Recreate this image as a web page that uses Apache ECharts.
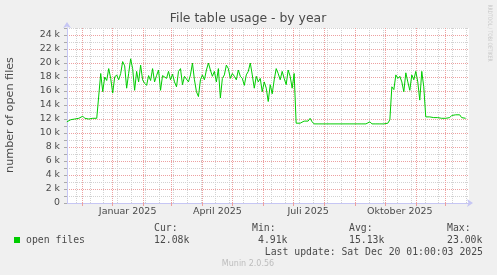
<!DOCTYPE html>
<html><head><meta charset="utf-8">
<script src="https://cdn.jsdelivr.net/npm/echarts@6/dist/echarts.min.js"></script>
<style>html,body{margin:0;padding:0;background:#f0f0f0;}#c{width:497px;height:275px;}</style>
</head><body><div id="c"></div>
<script>
// ---- data (values in thousands of open files, one sample every 2 days) ----
const seriesName = 'open files';
const sampleStart = [2024, 10, 16];   // 16 Nov 2024
const sampleStepDays = 2;
const openFilesK = [
  // mid Nov - mid Dec 2024
  11.6, 11.5, 11.9, 11.7, 12.0, 11.9, 12.1, 12.1, 12.4, 12.1, 12.1, 12.0, 12.1, 12.1, 12.1, 12.1, 12.1,
  // high period
  18.5, 15.9, 18.0, 17.5, 19.2, 17.8, 15.7, 18.0, 18.3, 17.6,
  18.5, 20.2, 19.6, 16.4, 18.5, 20.6, 19.2, 16.1, 18.8, 17.3,
  19.7, 17.6, 17.1, 16.8, 18.2, 17.5, 19.2, 17.3, 18.2, 19.0,
  16.1, 18.2, 18.3, 17.8, 18.8, 17.6, 18.4, 17.3, 16.6, 18.8,
  19.2, 16.9, 18.1, 17.9, 17.3, 18.3, 20.0, 17.6, 15.9, 15.2,
  17.6, 18.3, 17.6, 19.0, 20.0, 19.0, 18.1, 18.8, 17.3, 19.2,
  15.0, 17.8, 18.3, 19.7, 19.2, 17.8, 18.5, 18.1, 17.6, 19.0,
  18.1, 17.8, 16.8, 18.3, 18.8, 20.0, 18.3, 16.4, 18.1, 17.3,
  17.8, 15.9, 17.3, 16.4, 14.5, 16.9, 15.6, 17.6, 19.2, 18.5,
  17.6, 18.8, 17.8, 16.9, 19.0, 18.1, 16.4, 18.5,
  // low summer period
  11.4, 11.4, 11.4, 11.6, 11.7, 11.7, 11.7, 12.1, 11.6, 11.3,
  11.3, 11.3, 11.3, 11.3, 11.3, 11.3, 11.3, 11.3, 11.3, 11.3,
  11.3, 11.3, 11.5, 11.3, 11.3, 11.3, 11.3, 11.3, 11.4, 11.3,
  11.3, 11.3, 11.3, 11.3, 11.3, 11.3, 11.3, 11.6, 11.3, 11.3,
  11.3, 11.3, 11.3, 11.3, 11.3, 11.3, 11.4, 11.9,
  // autumn high period
  16.6, 16.2, 18.3, 17.8, 18.1, 17.3, 15.9, 18.6, 17.3, 16.1, 18.3, 17.6, 18.8, 17.3, 14.7, 18.8, 16.6,
  // Nov - Dec 2025
  12.3, 12.3, 12.3, 12.3, 12.2, 12.2, 12.2, 12.1, 12.1, 12.1, 12.1, 12.1, 12.2, 12.5, 12.6, 12.6, 12.5, 12.6, 12.2, 12.0, 12.1
];
const xRangeStart = [2024, 10, 16, 4];
const xRangeEnd = [2025, 11, 24, 9];
const monthLines = [[2024,11],[2025,0],[2025,1],[2025,2],[2025,3],[2025,4],[2025,5],[2025,6],[2025,7],[2025,8],[2025,9],[2025,10],[2025,11]];
const weekLines = [[2024,10,25],[2024,11,9],[2024,11,23],[2025,0,6],[2025,0,20],[2025,1,3],[2025,1,17],[2025,2,3],[2025,2,17],[2025,2,31],[2025,3,14],[2025,3,28],[2025,4,12],[2025,4,26],[2025,5,9],[2025,5,23],[2025,6,7],[2025,6,21],[2025,7,4],[2025,7,18],[2025,8,1],[2025,8,15],[2025,8,29],[2025,9,13],[2025,9,27],[2025,10,10],[2025,10,24],[2025,11,8],[2025,11,22]];
const xLabelDates = [[2025,0,16],[2025,3,16],[2025,6,16],[2025,9,16]];
const xLabelTexts = ['Januar 2025', 'April 2025', 'Juli 2025', 'Oktober 2025'];
const yMax = 25000, yStep = 1000;
const statHeads = ['Cur:', 'Min:', 'Avg:', 'Max:'];
const statValues = ['12.08k', '4.91k', '15.13k', '23.00k'];
const lastUpdate = 'Last update: Sat Dec 20 01:00:03 2025';

// ---- build ----
const U = a => Date.UTC(a[0], a[1], a[2] || 1, a[3] || 0);
const DAY = 86400000;
const t0 = U(sampleStart);
const data = openFilesK.map((v, i) => [t0 + i * sampleStepDays * DAY, v * 1000]);
const RED = '#eda0a0', GREY = '#d2d2d2', AXIS = '#c6c6f4', TXT = '#4a4a4a';
const labelValues = xLabelDates.map(U);
const monthValues = monthLines.map(U);
const weekValues = weekLines.map(U);

const sans = 'DejaVu Sans';
const statX = [154, 252, 349, 447];
const statValX = [154, 258, 349, 447];
const gfx = [
  { type: 'text', x: 248, y: 19, style: { text: 'File table usage - by year', font: '12.4px "DejaVu Sans"', fill: TXT, align: 'center', verticalAlign: 'middle' } },
  { type: 'text', x: 10, y: 115, rotation: Math.PI / 2, style: { text: 'number of open files', font: '11.2px "DejaVu Sans"', fill: TXT, align: 'center', verticalAlign: 'middle' } },
  { type: 'text', x: 490, y: 33, rotation: -Math.PI / 2, scaleX: 0.74, style: { text: 'RRDTOOL / TOBI OETIKER', font: '6px "DejaVu Sans"', fill: '#c8c8c8', align: 'center', verticalAlign: 'middle' } },
  { type: 'rect', shape: { x: 14, y: 237, width: 6, height: 6 }, style: { fill: '#00cc00' } },
  { type: 'text', x: 26, y: 240, style: { text: seriesName, font: '9.8px "DejaVu Sans Mono"', fill: TXT, verticalAlign: 'middle' } },
  { type: 'text', x: 483, y: 252, style: { text: lastUpdate, font: '9.8px "DejaVu Sans Mono"', fill: TXT, align: 'right', verticalAlign: 'middle' } },
  { type: 'text', x: 248, y: 264, style: { text: 'Munin 2.0.56', font: '8px "DejaVu Sans"', fill: '#bdbdbd', align: 'center', verticalAlign: 'middle' } }
];
statHeads.forEach((h, i) => {
  gfx.push({ type: 'text', x: statX[i], y: 228.5, style: { text: h, font: '9.8px "DejaVu Sans Mono"', fill: TXT, verticalAlign: 'middle' } });
  gfx.push({ type: 'text', x: statValX[i], y: 240, style: { text: statValues[i], font: '9.8px "DejaVu Sans Mono"', fill: TXT, verticalAlign: 'middle' } });
});

const chart = echarts.init(document.getElementById('c'), null, { renderer: 'canvas' });
chart.setOption({
  animation: false,
  backgroundColor: '#f0f0f0',
  grid: { left: 67, right: 28, top: 28, bottom: 72, show: true, backgroundColor: '#ffffff', borderWidth: 0 },
  xAxis: [{
    // hidden axis: fortnightly minor grid
    type: 'value', min: U(xRangeStart), max: U(xRangeEnd), position: 'bottom', z: 0,
    axisLine: { show: false }, axisLabel: { show: false },
    axisTick: { show: false, customValues: weekValues },
    splitLine: { show: true, lineStyle: { color: GREY, type: [1, 1], width: 1 } }
  }, {
    type: 'value', min: U(xRangeStart), max: U(xRangeEnd), position: 'bottom',
    axisLine: { show: true, onZero: false, lineStyle: { color: AXIS, width: 1 }, symbol: ['none', 'arrow'], symbolSize: [6, 6], symbolOffset: [0, 4] },
    axisTick: { show: true, customValues: monthValues, length: 3, lineStyle: { color: RED } },
    axisLabel: { customValues: labelValues, formatter: (v) => { const i = labelValues.indexOf(v); return i >= 0 ? xLabelTexts[i] : ''; }, color: TXT, fontFamily: sans, fontSize: 9.5, margin: 4 },
    splitLine: { show: true, lineStyle: { color: RED, type: [1, 1], width: 1 } }
  }],
  yAxis: {
    type: 'value', min: 0, max: yMax, interval: yStep,
    axisLine: { show: true, lineStyle: { color: AXIS, width: 1 }, symbol: ['none', 'arrow'], symbolSize: [6, 6], symbolOffset: [0, 6] },
    axisTick: { show: true, interval: 1, length: 3, lineStyle: { color: '#aaaaaa' } },
    axisLabel: { interval: 0, color: TXT, fontFamily: sans, fontSize: 9.4, margin: 7,
      formatter: v => v === 0 ? '0' : (v % 2000 === 0 && v < yMax ? (v / 1000) + ' k' : '') },
    splitLine: { show: true, lineStyle: { color: [RED, GREY], type: [1, 1], width: 1 } }
  },
  graphic: { elements: gfx },
  series: [
    { type: 'line', name: seriesName, xAxisIndex: 1, data: data, symbol: 'none', showSymbol: false, z: 3,
      lineStyle: { color: '#00cc00', width: 1 }, itemStyle: { color: '#00cc00' } }
  ]
});
</script></body></html>
